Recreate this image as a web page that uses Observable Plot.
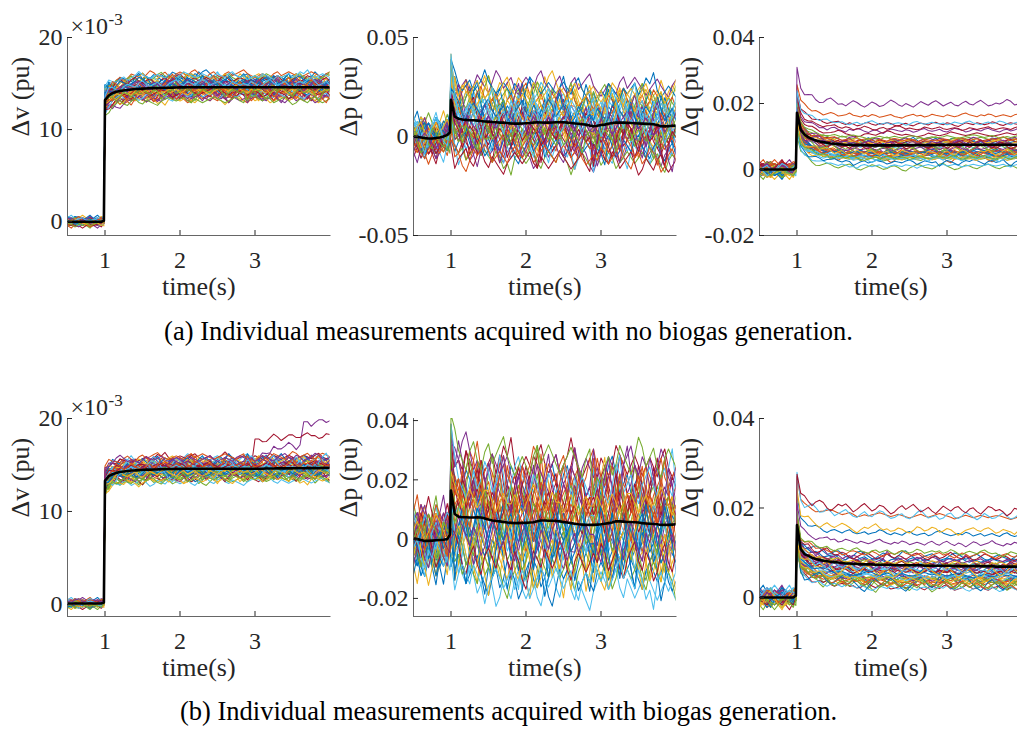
<!DOCTYPE html>
<html><head><meta charset="utf-8">
<script src="https://cdn.jsdelivr.net/npm/d3@7"></script>
<script src="https://cdn.jsdelivr.net/npm/@observablehq/plot@0.6"></script>
<style>
html,body{margin:0;padding:0;background:#fff;}
body{width:1017px;height:731px;overflow:hidden;position:relative;font-family:"Liberation Serif","Times New Roman",serif;}
.panel{position:absolute;width:353px;}
.panel svg{max-width:none !important;}
.panel g[aria-label="x-axis tick label"], .panel g[aria-label="y-axis tick label"]{font-size:24px;}
.cap{position:absolute;left:0;width:1017px;text-align:center;font-size:26.5px;line-height:26px;color:#000;font-family:"Liberation Serif",serif;}
</style></head>
<body>
<div id="fig"></div>
<div class="cap" style="top:318px">(a) Individual measurements acquired with no biogas generation.</div>
<div class="cap" style="top:698px">(b) Individual measurements acquired with biogas generation.</div>
<script>
// sample times (s)
const T = [0.5,0.55,0.6,0.65,0.7,0.75,0.8,0.85,0.9,0.95,0.985,
1,1.05,1.1,1.15,1.2,1.25,1.3,1.35,1.4,1.45,
1.5,1.55,1.6,1.65,1.7,1.75,1.8,1.85,1.9,1.95,
2,2.05,2.1,2.15,2.2,2.25,2.3,2.35,2.4,2.45,
2.5,2.55,2.6,2.65,2.7,2.75,2.8,2.85,2.9,2.95,
3,3.05,3.1,3.15,3.2,3.25,3.3,3.35,3.4,3.45,
3.5,3.55,3.6,3.65,3.7,3.75,3.8,3.85,3.9,3.95,
4];

// mean responses (black), in 1e-3 pu
const meanA = [0,0,0,0,0,0,0,0,0,0,0.1,
13.2,13.7,13.95,14.1,14.2,14.25,14.3,14.35,14.4,14.42,
14.45,14.47,14.5,14.5,14.52,14.53,14.55,14.55,14.56,14.57,
14.58,14.58,14.6,14.6,14.6,14.6,14.6,14.6,14.6,14.6,
14.6,14.6,14.6,14.6,14.6,14.6,14.6,14.6,14.6,14.6,
14.6,14.6,14.6,14.6,14.6,14.6,14.6,14.6,14.6,14.6,
14.6,14.6,14.6,14.6,14.6,14.6,14.6,14.6,14.6,14.6,
14.6];
const meanB = [0,-0.2,-0.5,-0.8,-1,-1,-0.8,-0.5,0,0.8,2,
18.5,10,9,8.6,8.4,8.2,8.2,8,7.8,7.6,
7.5,7.3,7.2,7,7,6.8,6.6,6.5,6.5,6.6,
6.7,6.8,7,7.2,7.1,7,7,7.1,7.2,7.3,
7.2,7,6.8,6.6,6.4,6.2,6,5.5,5.2,5.4,
5.8,6,6.4,6.8,7,7.1,7,6.9,6.8,6.7,
6.6,6.5,6.4,6.3,6.2,5.8,5.2,5.1,5.2,5.4,
5.5];
const meanC = [0,0,0,0,0,0,0,0,0,0,0.5,
17.2,12,10.6,9.8,9.2,8.8,8.5,8.3,8.1,7.9,
7.8,7.7,7.6,7.5,7.5,7.4,7.4,7.4,7.4,7.3,
7.3,7.3,7.3,7.3,7.3,7.3,7.3,7.3,7.35,7.35,
7.4,7.4,7.4,7.4,7.4,7.4,7.4,7.4,7.45,7.45,
7.5,7.5,7.5,7.5,7.5,7.5,7.5,7.5,7.5,7.5,
7.5,7.5,7.5,7.5,7.5,7.5,7.5,7.5,7.5,7.5,
7.5];
const meanD = [0.1,0.1,0.1,0.1,0.1,0.1,0.1,0.1,0.1,0.1,0.2,
13.3,13.8,14,14.15,14.25,14.3,14.35,14.4,14.42,14.45,
14.47,14.5,14.5,14.52,14.53,14.55,14.55,14.56,14.57,14.58,
14.58,14.6,14.6,14.6,14.6,14.6,14.6,14.6,14.6,14.6,
14.6,14.6,14.6,14.6,14.6,14.6,14.6,14.6,14.6,14.6,
14.6,14.6,14.6,14.62,14.62,14.62,14.63,14.63,14.63,14.64,
14.64,14.65,14.65,14.65,14.66,14.66,14.66,14.66,14.67,14.67,
14.67];
const meanE = [0.2,0,-0.3,-0.6,-0.6,-0.5,-0.4,-0.3,-0.2,0,1.5,
16.4,8.5,7.6,7.4,7.4,7.3,7.3,7.4,7.3,7,
6.6,6.3,6.1,6,5.8,5.6,5.5,5.4,5.4,5.5,
5.5,5.6,5.7,6,6.3,6.3,6.2,6.2,6.1,6,
5.8,5.6,5.4,5.2,5,4.9,4.8,4.8,4.8,4.9,
5,5.2,5.4,5.6,6,6,5.9,5.8,5.8,5.7,
5.6,5.4,5.3,5.2,5.1,5,4.8,4.8,4.8,4.9,
5];
const meanF = [0,0,0,0,0,0,0,0,0,0,0.4,
16.2,10.8,9.7,9.3,8.9,8.6,8.4,8.2,8.1,8,
7.9,7.8,7.7,7.6,7.6,7.5,7.5,7.4,7.4,7.4,
7.4,7.3,7.3,7.3,7.3,7.3,7.2,7.2,7.2,7.2,
7.2,7.2,7.2,7.2,7.1,7.1,7.1,7.1,7.1,7.1,
7.1,7.1,7,7,7,7,7,7,7,7,
7,7,7,6.9,6.9,6.9,6.9,6.9,6.9,6.9,
6.9];

// individual measurement deviations (read as integer steps of each panel's spread)
const dev = [
[2,3,1,-1,-2,0,2,3,2,1,0, 4,3,2,3,5,4,2,1,2,3, 4,6,5,3,2,1,0,1,3,4, 3,2,4,5,7,6,4,3,2,3, 2,1,0,1,2,4,3,2,1,2, 3,5,4,3,2,1,2,3,4,3, 2,1,0,1,2,3,4,3,2,3, 4],
[-1,0,2,1,-1,-3,-2,0,1,0,-1, -2,-4,-3,-2,-4,-5,-3,-2,-1,-3, -4,-2,-3,-5,-6,-4,-3,-2,-4,-3, -1,-2,-3,-4,-2,-1,-3,-5,-4,-2, -3,-4,-6,-5,-3,-2,-1,-2,-4,-3, -2,-3,-5,-4,-2,-3,-4,-3,-1,-2, -3,-4,-2,-1,-3,-4,-5,-3,-2,-3, -4],
[3,1,-2,-4,-1,2,4,1,-1,-3,2, 6,2,-1,-4,-2,1,5,7,3,0, -3,-5,-2,2,4,1,-2,-4,-1,3, 6,8,4,0,-3,-6,-4,0,3,5, 2,-1,-3,-1,2,4,7,5,1,-2, -5,-7,-3,1,3,0,-2,1,4,2, -1,-4,-6,-3,0,2,5,3,-1,-3, 0],
[0,-1,-2,-1,1,2,0,-1,1,3,1, 3,1,2,0,-1,1,3,2,0,1, 2,4,3,1,0,-1,1,2,3,1, 0,2,1,-1,0,2,4,3,1,2, 3,1,0,2,1,-1,0,2,3,2, 1,0,1,3,2,0,-1,1,2,1, 3,4,2,1,0,1,2,0,-1,1, 2],
[-2,-3,-1,0,-1,-2,-4,-2,0,1,-1, -3,0,-2,-4,-1,1,-1,-3,-5,-2, 0,-1,-3,-2,1,2,0,-2,-4,-3, -1,1,0,-2,-3,-1,0,-2,-1,1, -1,-3,-4,-2,0,1,-1,-2,0,-1, -3,-5,-3,-1,0,-2,-1,1,0,-2, -4,-3,-1,0,-1,-3,-2,0,1,-1, -2],
[1,2,4,2,0,1,3,2,0,-1,1, 7,3,1,2,4,6,3,1,2,0, 1,3,5,2,1,3,2,0,4,7, 3,1,2,0,1,2,5,3,1,2, 4,2,1,0,2,3,1,2,6,4, 2,1,3,2,0,1,2,4,3,1, 2,3,1,0,2,5,3,1,2,3, 2],
[0,1,-1,-2,-3,-1,0,-2,-1,0,-2, -1,-3,-2,0,-1,-3,-4,-2,-1,-2, -3,-1,0,-2,-3,-2,-4,-5,-3,-1, -2,-3,-1,-2,-4,-3,-1,0,-2,-3, -2,-1,-3,-4,-2,-1,-2,-3,-1,0, -2,-3,-4,-2,-1,-3,-2,-1,-3,-4, -3,-1,-2,-3,-2,0,-1,-3,-2,-1, -2],
[2,1,3,4,2,1,0,2,3,1,2, 5,6,4,5,7,6,5,4,6,7, 8,6,5,7,6,4,5,6,8,7, 5,4,6,7,5,6,8,9,7,5, 6,5,4,5,7,6,5,6,7,5, 4,5,6,5,3,4,6,5,4,5, 6,7,5,4,5,6,5,4,6,7, 6],
[-1,-2,-3,-1,0,-2,-3,-1,-2,-3,-1, -4,-5,-6,-4,-5,-7,-6,-4,-3,-5, -6,-5,-4,-6,-7,-5,-4,-5,-6,-4, -5,-6,-8,-7,-5,-4,-6,-5,-4,-6, -7,-5,-4,-5,-6,-4,-5,-7,-8,-6, -5,-4,-5,-6,-5,-7,-6,-4,-5,-6, -4,-5,-6,-5,-4,-6,-7,-5,-4,-5, -6],
[0,1,0,-1,0,1,2,1,0,-1,0, 1,0,-1,0,1,2,1,0,-1,-2, -1,0,1,0,-1,0,2,1,0,1, 0,-1,-2,-1,0,1,0,-1,0,1, 2,1,0,-1,0,1,0,-1,-2,-1, 0,1,2,1,0,-1,0,1,0,-1, 0,1,0,-1,-1,0,1,2,1,0, 1],
[-1,1,3,2,0,-2,-1,1,2,0,1, 2,4,1,-1,1,3,5,2,0,2, 3,1,-1,0,2,4,6,3,1,2, 0,-2,1,3,2,4,3,1,2,4, 5,3,0,1,3,2,0,1,4,3, 1,2,4,6,4,2,1,0,2,3, 1,0,2,4,3,1,2,3,5,2, 1],
[-4,-2,1,3,0,-3,-5,-2,1,2,-1, -5,-1,2,0,-3,-6,-4,-1,1,-2, -5,-7,-3,0,2,-1,-4,-3,0,3, 1,-2,-5,-8,-4,-1,1,-1,-3,-2, 1,3,0,-4,-6,-3,0,2,-1,-4, -2,1,2,-1,-3,-5,-2,0,-3,-6, -4,-1,2,1,-2,-4,-3,0,2,-1, -3],
[1,0,2,1,3,2,1,-1,0,2,1, 0,2,3,1,0,2,1,-1,1,3, 2,0,1,2,4,2,1,0,2,1, 3,2,0,1,2,3,1,0,-1,1, 2,3,1,2,0,1,3,2,1,0, 2,1,0,1,3,4,2,1,0,2, 1,3,2,0,1,2,1,0,2,3, 1],
[-2,0,-1,-3,-5,-3,-1,0,-2,-4,-2, -6,-3,-1,-4,-7,-5,-2,-3,-6,-4, -1,-3,-5,-7,-4,-2,-1,-4,-6,-3, -2,-5,-7,-6,-3,-1,-2,-4,-5,-2, -1,-3,-6,-8,-5,-2,-3,-4,-1,-2, -5,-6,-3,-2,-4,-7,-5,-3,-1,-3, -6,-4,-2,-3,-5,-7,-4,-2,-3,-5, -4],
[0,2,4,3,1,-1,1,3,5,2,1, 8,4,2,5,7,3,1,2,6,8, 5,2,3,1,4,7,5,2,0,3, 6,4,1,2,5,8,6,3,1,4, 2,0,3,6,4,2,5,7,4,1, 3,5,2,1,4,6,3,2,5,7, 4,1,2,4,3,5,8,6,2,3, 4],
[2,-1,-3,-1,1,0,-2,-1,2,1,0, -1,1,3,2,-1,-3,-2,0,2,1, -1,-2,0,2,3,1,-2,-3,-1,1, 3,2,0,-2,-1,1,2,0,-3,-4, -1,1,3,2,0,-1,-2,0,3,4, 1,-1,-3,-2,0,2,1,-1,-2,0, 2,3,1,-1,-2,0,1,2,0,-2, -1],
[-1,0,1,3,2,0,-1,1,2,3,2, 3,4,5,3,2,4,6,5,3,4, 5,3,2,4,5,6,4,3,5,6, 4,3,5,7,6,4,3,2,4,5, 3,4,6,5,3,4,5,3,2,4, 6,7,5,4,3,5,4,2,3,5, 4,3,4,6,5,3,2,4,5,4, 3],
[1,-1,-2,0,1,-1,-3,-2,0,-1,-2, -3,-4,-2,-3,-5,-4,-3,-5,-6,-4, -3,-2,-4,-5,-3,-4,-6,-5,-3,-2, -4,-5,-3,-4,-2,-3,-5,-6,-4,-3, -5,-6,-4,-3,-4,-5,-3,-2,-4,-5, -3,-4,-6,-7,-5,-3,-4,-5,-3,-4, -5,-4,-2,-3,-5,-6,-4,-3,-4,-5, -4],
[0,-1,1,0,-2,-1,0,1,-1,0,1, -2,-1,0,-3,-1,1,-2,-6,-2,0, -1,-2,0,1,-1,-3,-2,0,-1,2, 0,-1,-2,-1,-7,-3,-1,0,-2,-1, 1,0,-1,-2,0,-1,-3,-2,0,1, -1,-2,-1,0,-2,-5,-1,0,-1,-2, 0,1,-1,-2,-1,0,-2,-1,0,-1, -2],
[3,5,2,-1,0,2,4,3,0,-2,1, 4,7,5,1,-2,-1,2,5,3,0, -2,1,4,6,3,1,-1,2,5,7, 4,0,-3,-1,2,4,1,-1,3,6, 8,5,1,-1,0,3,5,2,-1,-3, 0,3,6,4,1,-2,0,2,4,1, -1,1,4,6,3,0,2,5,3,1, 2],
[1,2,1,0,1,2,3,2,1,0,1, 2,3,2,1,2,3,2,1,2,3, 3,2,1,2,3,2,2,3,4,3, 2,1,2,2,3,2,1,2,3,2, 1,2,3,3,2,1,2,3,2,2, 3,2,1,2,3,4,3,2,1,2, 3,2,2,1,2,3,2,1,2,3, 2],
[-3,-1,0,-2,-3,-1,1,0,-2,-3,-1, -1,-3,-4,-2,0,-1,-3,-2,-4,-1, 0,-2,-3,-4,-1,-2,0,-1,-3,-4, -2,-1,-3,-5,-2,0,-1,-2,-3,-1, -2,-4,-3,-1,0,-2,-3,-2,-1,-3, -4,-2,0,-1,-2,-4,-3,-1,-2,-3, -1,0,-2,-3,-4,-2,-1,-3,-2,0, -1],
[0,1,2,1,3,2,1,0,2,1,0, 3,5,4,6,7,5,6,8,7,6, 5,7,9,8,6,7,8,6,5,7, 8,7,6,8,9,7,6,5,7,8, 6,5,7,8,6,7,8,9,7,6, 5,6,7,6,5,7,8,6,7,8, 7,6,5,6,7,8,7,6,5,7, 8],
[-1,0,-2,-3,-1,-2,0,-1,-3,-2,-4, -4,-5,-6,-5,-7,-6,-5,-4,-6,-5, -6,-7,-5,-6,-8,-7,-9,-6,-5,-6, -7,-6,-5,-7,-8,-6,-5,-6,-7,-5, -6,-7,-9,-7,-6,-5,-6,-7,-6,-5, -7,-6,-5,-6,-8,-7,-6,-5,-6,-7, -6,-5,-6,-7,-6,-5,-7,-8,-6,-5, -6]
];

// settled levels of individual reactive-power traces (1e-3 pu), two groups of traces
const levelsC = [9,16,7,19,0.8,6,15,8.5,5.5,4.5,12.5,7.5,3,10,6.5,4,3.5,9.5,2.8,5,11,6.8,4.2,8];
const levelsC2 = [5,7.5,4,8,6,3.5,9,5.5,6.5,4.5,7,3,8.5,5,6,10,4,7,5.5,3.8,6.2,8,4.8,13];
const levelsF = [12.5,18,15.5,6,7.5,17,20.5,9,5.5,4.5,8,3.5,6.5,1.5,10,5,4,7,3,6,8.5,4.8,3.2,5.8];
const levelsF2 = [4,6,3,7.5,5,2.5,8,4.5,5.5,3.5,6.5,2.8,9,4.2,5.8,10.5,3.2,7,4.8,2.2,6,11.5,3.8,5.2];
// late drifting voltage traces in (b), from t = 3.0 s (1e-3 pu above mean)
const driftRed = [3.2,3.4,3.3,3.1,3.3,3.5,3.4,3.2,3.3,3.4,3.6,3.5,3.3,3.4,3.6,3.5,3.7,3.6,3.5,3.7,3.8];
const driftPurple = [0.3,0.6,0.9,1.2,1.5,1.8,1.7,1.9,1.8,2.0,1.9,1.8,2.1,4.4,4.6,4.5,4.7,4.6,4.8,4.7,4.7];

const colors = ["#0072BD","#D95319","#EDB120","#7E2F8E","#77AC30","#4DBEEE","#A2142F"];
const fmt3 = d => String(Math.round(d * 1000));
const fmt2 = d => d === 0 ? "0" : d.toFixed(2);

const panels = [
  {mean: meanA, preS: 0.14, postS: 0.21, shift: 0, sign: 1, left: 66.5, top: 37, dom: [-0.0015, 0.02], ticks: [0, 0.01, 0.02], fmt: fmt3, label: "Δv (pu)", ldx: -47, exp: true},
  {mean: meanB, preS: 2.6, postS: 2.9, shift: 5, sign: 1, left: 412.5, top: 37, dom: [-0.05, 0.05], ticks: [-0.05, 0, 0.05], fmt: fmt2, label: "Δp (pu)", ldx: -65},
  {mean: meanC, preS: 0.6, postS: 0.28, shift: 11, sign: 1, left: 758.5, top: 37, dom: [-0.02, 0.04], ticks: [-0.02, 0, 0.02, 0.04], fmt: fmt2, label: "Δq (pu)", ldx: -70, levels: levelsC, levels2: levelsC2},
  {mean: meanD, preS: 0.13, postS: 0.2, shift: 3, sign: -1, left: 66.5, top: 418, dom: [-0.0013, 0.02], ticks: [0, 0.01, 0.02], fmt: fmt3, label: "Δv (pu)", ldx: -47, exp: true, drift: {6: driftRed, 3: driftPurple}},
  {mean: meanE, preS: 3.0, postS: 3.2, shift: 17, sign: -1, left: 412.5, top: 418, dom: [-0.0261, 0.0407], ticks: [-0.02, 0, 0.02, 0.04], fmt: fmt2, label: "Δp (pu)", ldx: -65},
  {mean: meanF, preS: 0.55, postS: 0.28, shift: 8, sign: -1, left: 758.5, top: 418, dom: [-0.00425, 0.04], ticks: [0, 0.02, 0.04], fmt: fmt2, label: "Δq (pu)", ldx: -70, levels: levelsF, levels2: levelsF2}
];

const FW = 262.5, FH = 198, ML = 80, MT = 40, MR = 10, MB = 75;
const fig = document.getElementById("fig");
const R = dev.length;

for (const p of panels) {
  const N = p.mean.length, endMean = p.mean[N - 1];
  const lines = [];
  for (let k = 0; k < 2 * R; k++) {
    const second = k >= R, kk = k % R;
    const row = dev[(kk + p.shift + (second ? 7 : 0)) % R];
    const sg = second ? -p.sign : p.sign;
    for (let j = 0; j < N; j++) {
      const post = j >= 11;
      const jj = (second && post) ? 11 + ((j - 11 + 23) % 61) : j;
      let v = p.mean[j] + sg * row[jj] * (post ? p.postS : p.preS);
      if (p.levels && post) v += (second ? p.levels2[kk] : p.levels[kk]) - endMean;
      if (!second && p.drift && p.drift[kk] && j >= 51) v += p.drift[kk][j - 51];
      lines.push({t: T[j], v: v / 1000, k});
    }
  }
  const meanData = p.mean.map((v, j) => ({t: T[j], v: v / 1000}));
  const marks = [
    Plot.line(lines, {x: "t", y: "v", z: "k", stroke: d => colors[d.k % 7], strokeWidth: 1.05, clip: true}),
    Plot.line(meanData, {x: "t", y: "v", stroke: "#000", strokeWidth: 2.6, clip: true}),
    Plot.frame({anchor: "left", stroke: "#666", strokeWidth: 1}),
    Plot.frame({anchor: "bottom", stroke: "#666", strokeWidth: 1}),
    Plot.axisX({ticks: [1, 2, 3], tickSize: -5, tickPadding: 20, label: null, tickFormat: d => String(d)}),
    Plot.axisY({ticks: p.ticks, tickSize: -5, tickPadding: 10, label: null, tickFormat: p.fmt}),
    Plot.text([p.label], {text: d => d, frameAnchor: "left", rotate: -90, dx: p.ldx, fontSize: 26, fill: "#262626"}),
    Plot.text(["time(s)"], {text: d => d, frameAnchor: "bottom", dy: 59, fontSize: 26, fill: "#262626"})
  ];
  if (p.exp) {
    marks.push(Plot.text(["×10"], {text: d => d, frameAnchor: "top-left", dx: 3, dy: -4, textAnchor: "start", lineAnchor: "bottom", fontSize: 24, fill: "#262626"}));
    marks.push(Plot.text(["-3"], {text: d => d, frameAnchor: "top-left", dx: 41, dy: -13, textAnchor: "start", lineAnchor: "bottom", fontSize: 17, fill: "#262626"}));
  }
  const svg = Plot.plot({
    width: ML + FW + MR, height: MT + FH + MB,
    marginLeft: ML, marginTop: MT, marginRight: MR, marginBottom: MB,
    x: {domain: [0.5, 4]},
    y: {domain: p.dom},
    color: {type: "identity"},
    style: {fontFamily: "'Liberation Serif', serif", fontSize: "24px", color: "#262626", background: "transparent", overflow: "visible", maxWidth: "none"},
    marks
  });
  const div = document.createElement("div");
  div.className = "panel";
  div.style.left = (p.left - ML) + "px";
  div.style.top = (p.top - MT) + "px";
  div.appendChild(svg);
  fig.appendChild(div);
}
</script>
</body></html>
